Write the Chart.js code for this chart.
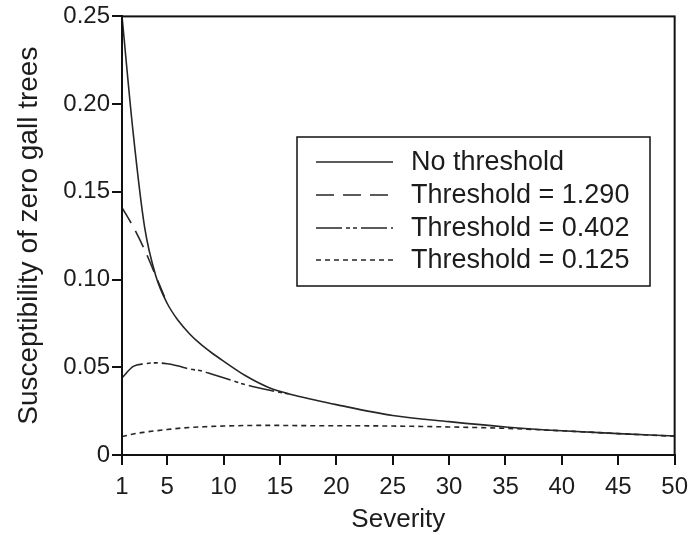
<!DOCTYPE html>
<html>
<head>
<meta charset="utf-8">
<script src="https://cdn.jsdelivr.net/npm/chart.js@4.4.1/dist/chart.umd.min.js"></script>
<style>
  html, body { margin: 0; padding: 0; background: #fff; }
  #wrap { width: 696px; height: 535px; }
</style>
</head>
<body>
<div id="wrap"><canvas id="myChart" width="696" height="535"></canvas></div>
<script>
const ctx = document.getElementById('myChart').getContext('2d');

// data
const severity = [1, 2, 3, 4, 5, 6, 7, 8, 9, 10, 12, 14, 16, 18, 20, 25, 30, 35, 40, 45, 50];
const noThreshold = [0.25, 0.183, 0.130, 0.102, 0.0865, 0.0765, 0.069, 0.063, 0.058, 0.0535, 0.045, 0.0385, 0.0345, 0.0315, 0.0287, 0.0225, 0.019, 0.016, 0.0138, 0.0122, 0.0108];
const threshold1290 = [0.141, 0.130, 0.117, 0.102, 0.0865, null, null, null, null, null, null, null, null, null, null, null, null, null, null, null, null];
const threshold0402 = [0.044, 0.0505, 0.052, 0.0525, 0.052, 0.0507, 0.049, 0.048, 0.046, 0.044, 0.040, 0.037, 0.0345, null, null, null, null, null, null, null, null];
const threshold0125 = [0.0105, 0.012, 0.013, 0.0138, 0.0145, 0.0152, 0.0157, 0.016, 0.0163, 0.0165, 0.0168, 0.0169, 0.0168, 0.0167, 0.0167, 0.0165, 0.016, 0.0152, 0.0138, 0.0122, 0.0107];

const seriesLabels = ['No threshold', 'Threshold = 1.290', 'Threshold = 0.402', 'Threshold = 0.125'];
const xTicks = [1, 5, 10, 15, 20, 25, 30, 35, 40, 45, 50];
const yTicks = [0, 0.05, 0.10, 0.15, 0.20, 0.25];

const FONT = '"Liberation Sans", Arial, Helvetica, sans-serif';
const INK = '#1c1c1c';

const toPoints = (vals) => severity.map((x, i) => ({ x: x, y: vals[i] }));

const lineStyle = (label, vals, dash) => ({
	label,
	data: toPoints(vals),
	borderColor: '#262626',
	borderWidth: 1.6,
	borderDash: dash,
	pointRadius: 0,
	fill: false,
	cubicInterpolationMode: 'monotone',
	spanGaps: false,
});

const dataChart = {
	datasets: [
		lineStyle(seriesLabels[0], noThreshold, []),
		lineStyle(seriesLabels[1], threshold1290, [18, 9]),
		lineStyle(seriesLabels[2], threshold0402, [26, 4, 4, 3, 4, 4]),
		lineStyle(seriesLabels[3], threshold0125, [5, 4]),
	],
};

// frame around the plot + boxed legend in the upper right
const framePlugin = {
	id: 'frame',
	afterDraw(chart) {
		const c = chart.ctx;
		const a = chart.chartArea;
		c.save();
		c.strokeStyle = '#111';
		c.lineWidth = 2;
		c.strokeRect(a.left, a.top, a.right - a.left, a.bottom - a.top);

		// legend box
		const bx = 297, by = 137, bw = 353, bh = 149;
		c.lineWidth = 1.5;
		c.fillStyle = '#fff';
		c.fillRect(bx, by, bw, bh);
		c.strokeRect(bx, by, bw, bh);
		const rows = [162, 195, 228, 260];
		c.font = '27px ' + FONT;
		c.textBaseline = 'middle';
		chart.data.datasets.forEach((ds, i) => {
			c.strokeStyle = '#262626';
			c.lineWidth = 1.6;
			c.setLineDash(ds.borderDash);
			c.beginPath();
			c.moveTo(316, rows[i]);
			c.lineTo(393, rows[i]);
			c.stroke();
			c.setLineDash([]);
			c.fillStyle = INK;
			c.fillText(ds.label, 411, rows[i] + 1);
		});
		c.restore();
	},
};

const config = {
	type: 'line',
	data: dataChart,
	options: {
		responsive: false,
		animation: false,
		layout: { padding: { top: 16, right: 20, left: 0, bottom: 0 } },
		plugins: {
			legend: { display: false },
			tooltip: { enabled: false },
		},
		scales: {
			x: {
				type: 'linear',
				min: 1,
				max: 50,
				afterBuildTicks: (scale) => {
					scale.ticks = xTicks.map((v) => ({ value: v }));
				},
				afterFit: (scale) => {
					scale.height = 80;
				},
				grid: {
					drawOnChartArea: false,
					drawTicks: true,
					tickLength: 10,
					color: '#111',
					lineWidth: 2,
				},
				border: { display: true, color: '#111', width: 2 },
				ticks: {
					color: INK,
					font: { family: FONT, size: 24 },
					padding: 8,
					maxRotation: 0,
					autoSkip: false,
				},
				title: {
					display: true,
					text: 'Severity',
					color: INK,
					font: { family: FONT, size: 26 },
					padding: { top: 0, bottom: 0 },
				},
			},
			y: {
				type: 'linear',
				min: 0,
				max: 0.25,
				afterBuildTicks: (scale) => {
					scale.ticks = yTicks.map((v) => ({ value: v }));
				},
				afterFit: (scale) => {
					scale.width = 122;
				},
				grid: {
					drawOnChartArea: false,
					drawTicks: true,
					tickLength: 10,
					color: '#111',
					lineWidth: 2,
				},
				border: { display: true, color: '#111', width: 2 },
				ticks: {
					color: INK,
					font: { family: FONT, size: 24 },
					padding: 2,
					callback: (v) => (v === 0 ? '0' : v.toFixed(2)),
				},
				title: {
					display: true,
					text: 'Susceptibility of zero gall trees',
					color: INK,
					font: { family: FONT, size: 28 },
					padding: { top: 12, bottom: 0 },
				},
			},
		},
	},
	plugins: [framePlugin],
};

const myChart = new Chart(ctx, config);
</script>
</body>
</html>
